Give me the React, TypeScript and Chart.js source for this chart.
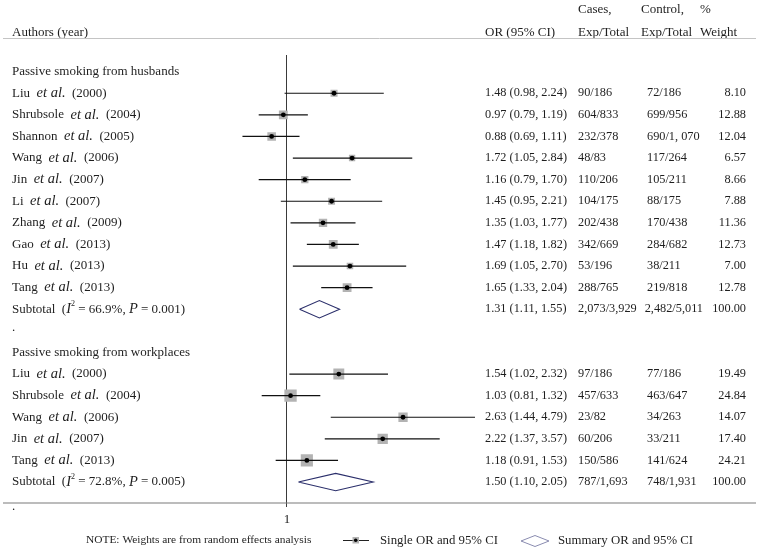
import React, { useEffect, useRef } from 'react';
import { Chart, registerables } from 'chart.js';

Chart.register(...registerables);

// ---------- Data ----------
const husbandAuthors = ['Liu', 'Shrubsole', 'Shannon', 'Wang', 'Jin', 'Li', 'Zhang', 'Gao', 'Hu', 'Tang'];
const husbandYears = ['2000', '2004', '2005', '2006', '2007', '2007', '2009', '2013', '2013', '2013'];
const husbandOR = [1.48, 0.97, 0.88, 1.72, 1.16, 1.45, 1.35, 1.47, 1.69, 1.65];
const husbandLow = [0.98, 0.79, 0.69, 1.05, 0.79, 0.95, 1.03, 1.18, 1.05, 1.33];
const husbandHigh = [2.24, 1.19, 1.11, 2.84, 1.7, 2.21, 1.77, 1.82, 2.7, 2.04];
const husbandCases = ['90/186', '604/833', '232/378', '48/83', '110/206', '104/175', '202/438', '342/669', '53/196', '288/765'];
const husbandControls = ['72/186', '699/956', '690/1, 070', '117/264', '105/211', '88/175', '170/438', '284/682', '38/211', '219/818'];
const husbandWeights = [8.1, 12.88, 12.04, 6.57, 8.66, 7.88, 11.36, 12.73, 7.0, 12.78];
const husbandSubtotal = { or: 1.31, low: 1.11, high: 1.55, cases: '2,073/3,929', controls: '2,482/5,011', weight: 100.0, i2: '66.9%', p: '0.001' };

const workAuthors = ['Liu', 'Shrubsole', 'Wang', 'Jin', 'Tang'];
const workYears = ['2000', '2004', '2006', '2007', '2013'];
const workOR = [1.54, 1.03, 2.63, 2.22, 1.18];
const workLow = [1.02, 0.81, 1.44, 1.37, 0.91];
const workHigh = [2.32, 1.32, 4.79, 3.57, 1.53];
const workCases = ['97/186', '457/633', '23/82', '60/206', '150/586'];
const workControls = ['77/186', '463/647', '34/263', '33/211', '141/624'];
const workWeights = [19.49, 24.84, 14.07, 17.4, 24.21];
const workSubtotal = { or: 1.5, low: 1.1, high: 2.05, cases: '787/1,693', controls: '748/1,931', weight: 100.0, i2: '72.8%', p: '0.005' };

const groupTitles = ['Passive smoking from husbands', 'Passive smoking from workplaces'];
const headerTop = ['', '', 'Cases,', 'Control,', '%'];
const headerBottom = ['Authors (year)', 'OR (95% CI)', 'Exp/Total', 'Exp/Total', 'Weight'];
const xTickValues = [1];
const noteText = 'NOTE: Weights are from random effects analysis';
const legendSingle = 'Single OR and 95% CI';
const legendSummary = 'Summary OR and 95% CI';

// ---------- Layout (rows) ----------
const husbandRows = husbandAuthors.map((_, i) => i);
const husbandSubRow = husbandAuthors.length; // 10
const workHeaderRow = husbandSubRow + 2; // 12
const workRows = workAuthors.map((_, i) => workHeaderRow + 1 + i);
const workSubRow = workHeaderRow + 1 + workAuthors.length; // 18

const SERIF = '"Liberation Serif", "Times New Roman", serif';
const FS = 13;
const FSN = 12.3;
const TEXT = '#1e1e1e';
const BOX = '#b3b3b3';
const DIAMOND = '#2b2f6b';

const fmtCI = (o: number, l: number, h: number) => `${o.toFixed(2)} (${l.toFixed(2)}, ${h.toFixed(2)})`;
const boxSide = (w: number) => 2.47 * Math.sqrt(w);

type Run = { t: string; italic?: boolean; sup?: boolean };

function drawRuns(ctx: CanvasRenderingContext2D, x: number, y: number, runs: Run[]) {
  let cx = x;
  for (const r of runs) {
    if (r.sup) {
      ctx.font = `${FS * 0.62}px ${SERIF}`;
      ctx.fillText(r.t, cx, y - 5);
      cx += ctx.measureText(r.t).width;
    } else {
      ctx.font = r.italic ? `italic ${FS + 1.5}px ${SERIF}` : `${FS}px ${SERIF}`;
      ctx.fillText(r.t, cx, y);
      cx += ctx.measureText(r.t).width;
    }
  }
}

const textPlugin = {
  id: 'forestText',
  afterDraw(chart: any) {
    const ctx: CanvasRenderingContext2D = chart.ctx;
    const ys = chart.scales.y;
    const rowY = (r: number) => ys.getPixelForValue(r);
    const W = chart.width;
    ctx.save();
    ctx.fillStyle = TEXT;
    ctx.textBaseline = 'middle';
    ctx.textAlign = 'left';

    // column positions
    const xLabel = 12;
    const xOR = 485;
    const xCases = 578;
    const xCtrl = 647;
    const xCtrlRight = 703;
    const xWeightRight = 746;
    const xHeaders = [xLabel, xOR, xCases, 641, 700];

    // header
    ctx.font = `${FS}px ${SERIF}`;
    headerTop.forEach((t, i) => t && ctx.fillText(t, xHeaders[i], 10));
    headerBottom.forEach((t, i) => ctx.fillText(t, xHeaders[i], 33));

    // separator lines
    ctx.strokeStyle = '#c4c4c4';
    ctx.lineWidth = 1;
    ctx.beginPath();
    ctx.moveTo(3, 38.5);
    ctx.lineTo(W - 3, 38.5);
    ctx.stroke();
    ctx.strokeStyle = '#7a7a7a';
    ctx.lineWidth = 1.2;
    ctx.beginPath();
    const yb = chart.chartArea.bottom;
    ctx.moveTo(3, yb);
    ctx.lineTo(W - 3, yb);
    ctx.stroke();

    const numbers = (y: number, or: number, lo: number, hi: number, cases: string, ctrl: string, w: number) => {
      ctx.font = `${FSN}px ${SERIF}`;
      ctx.textAlign = 'left';
      ctx.fillText(fmtCI(or, lo, hi), xOR, y);
      ctx.fillText(cases, xCases, y);
      const cw = ctx.measureText(ctrl).width;
      ctx.fillText(ctrl, Math.min(xCtrl, xCtrlRight - cw), y);
      ctx.textAlign = 'right';
      ctx.fillText(w.toFixed(2), xWeightRight, y);
      ctx.textAlign = 'left';
    };

    const studyRow = (name: string, year: string, y: number, or: number, lo: number, hi: number, cases: string, ctrl: string, w: number) => {
      drawRuns(ctx, xLabel, y, [{ t: name + '  ' }, { t: 'et al.', italic: true }, { t: '  (' + year + ')' }]);
      numbers(y, or, lo, hi, cases, ctrl, w);
    };

    // group 1
    ctx.font = `${FS}px ${SERIF}`;
    ctx.fillText(groupTitles[0], xLabel, rowY(-1));
    husbandAuthors.forEach((a, i) =>
      studyRow(a, husbandYears[i], rowY(husbandRows[i]), husbandOR[i], husbandLow[i], husbandHigh[i], husbandCases[i], husbandControls[i], husbandWeights[i])
    );
    const sub = (s: typeof husbandSubtotal, r: number) => {
      const y = rowY(r);
      drawRuns(ctx, xLabel, y, [
        { t: 'Subtotal  (' },
        { t: 'I', italic: true },
        { t: '2', sup: true },
        { t: ' = ' + s.i2 + ', ' },
        { t: 'P', italic: true },
        { t: ' = ' + s.p + ')' },
      ]);
      numbers(y, s.or, s.low, s.high, s.cases, s.controls, s.weight);
    };
    sub(husbandSubtotal, husbandSubRow);
    ctx.font = `${FS}px ${SERIF}`;
    ctx.fillText('.', xLabel, rowY(husbandSubRow + 1) - 3);

    // group 2
    ctx.fillText(groupTitles[1], xLabel, rowY(workHeaderRow));
    workAuthors.forEach((a, i) =>
      studyRow(a, workYears[i], rowY(workRows[i]), workOR[i], workLow[i], workHigh[i], workCases[i], workControls[i], workWeights[i])
    );
    sub(workSubtotal, workSubRow);
    ctx.font = `${FS}px ${SERIF}`;
    ctx.fillText('.', xLabel, yb + 4);

    // legend / note
    const yl = 540;
    ctx.font = `11.4px ${SERIF}`;
    ctx.fillText(noteText, 86, yl);
    ctx.font = `12.8px ${SERIF}`;
    ctx.strokeStyle = '#222';
    ctx.lineWidth = 1;
    ctx.beginPath();
    ctx.moveTo(343, yl + 0.5);
    ctx.lineTo(369, yl + 0.5);
    ctx.stroke();
    ctx.fillStyle = BOX;
    ctx.fillRect(352.5, yl - 3, 6.5, 6.5);
    ctx.fillStyle = '#000';
    ctx.beginPath();
    ctx.arc(355.7, yl + 0.3, 1.8, 0, Math.PI * 2);
    ctx.fill();
    ctx.fillStyle = TEXT;
    ctx.fillText(legendSingle, 380, yl + 1);
    ctx.strokeStyle = '#8a8cb0';
    ctx.beginPath();
    ctx.moveTo(521, yl + 1);
    ctx.lineTo(535, yl - 4.5);
    ctx.lineTo(549, yl + 1);
    ctx.lineTo(535, yl + 6.5);
    ctx.closePath();
    ctx.stroke();
    ctx.fillText(legendSummary, 558, yl + 1);
    ctx.restore();
  },
};

// ---------- Datasets ----------
function buildDatasets() {
  const allOR = [...husbandOR, ...workOR];
  const allLow = [...husbandLow, ...workLow];
  const allHigh = [...husbandHigh, ...workHigh];
  const allRows = [...husbandRows, ...workRows];
  const allW = [...husbandWeights, ...workWeights];

  const dots = {
    label: 'points',
    data: allOR.map((o, i) => ({ x: o, y: allRows[i] })),
    pointStyle: 'circle',
    pointRadius: 2.4,
    pointBackgroundColor: '#000',
    pointBorderWidth: 0,
    showLine: false,
  };
  const cis = allOR.map((_, i) => ({
    label: 'ci' + i,
    data: [
      { x: allLow[i], y: allRows[i] },
      { x: allHigh[i], y: allRows[i] },
    ],
    showLine: true,
    borderColor: '#111',
    borderWidth: 1.2,
    pointRadius: 0,
  }));
  const boxes = {
    label: 'boxes',
    data: allOR.map((o, i) => ({ x: o, y: allRows[i] })),
    pointStyle: 'rect',
    pointRadius: allW.map((w) => boxSide(w) / Math.SQRT2),
    pointBackgroundColor: BOX,
    pointBorderWidth: 0,
    showLine: false,
  };
  const diamonds = [
    { s: husbandSubtotal, r: husbandSubRow },
    { s: workSubtotal, r: workSubRow },
  ].map(({ s, r }, k) => ({
    label: 'diamond' + k,
    data: [
      { x: s.low, y: r },
      { x: s.or, y: r - 0.4 },
      { x: s.high, y: r },
      { x: s.or, y: r + 0.4 },
      { x: s.low, y: r },
    ],
    showLine: true,
    borderColor: DIAMOND,
    borderWidth: 1.1,
    pointRadius: 0,
    fill: false,
    tension: 0,
  }));
  return [dots, ...cis, boxes, ...diamonds];
}

export default function App() {
  const ref = useRef<HTMLCanvasElement | null>(null);
  useEffect(() => {
    if (!ref.current) return;
    const chart = new Chart(ref.current, {
      type: 'scatter',
      data: { datasets: buildDatasets() as any },
      plugins: [textPlugin as any],
      options: {
        responsive: false,
        animation: false,
        devicePixelRatio: 1,
        layout: { padding: { left: 142.5, right: 230.2, top: 55, bottom: 19.4 } },
        plugins: { legend: { display: false }, tooltip: { enabled: false } },
        scales: {
          x: {
            type: 'logarithmic',
            min: 0.3,
            max: 7.5,
            afterBuildTicks: (scale: any) => {
              scale.ticks = xTickValues.map((v) => ({ value: v }));
            },
            ticks: {
              callback: (v: any) => String(v),
              color: TEXT,
              font: { family: SERIF, size: 13 },
              padding: 5,
              maxRotation: 0,
              autoSkip: false,
            },
            grid: { color: '#3a3a3a', lineWidth: 1, tickLength: 4, drawTicks: true },
            border: { display: false },
          },
          y: {
            type: 'linear',
            reverse: true,
            min: -1.77,
            max: 18.97,
            display: false,
          },
        },
      },
    });
    return () => chart.destroy();
  }, []);
  return (
    <div style={{ position: 'absolute', left: 0, top: 0, width: 759, height: 552, background: '#fff' }}>
      <canvas ref={ref} width={759} height={552} style={{ display: 'block' }} />
    </div>
  );
}
